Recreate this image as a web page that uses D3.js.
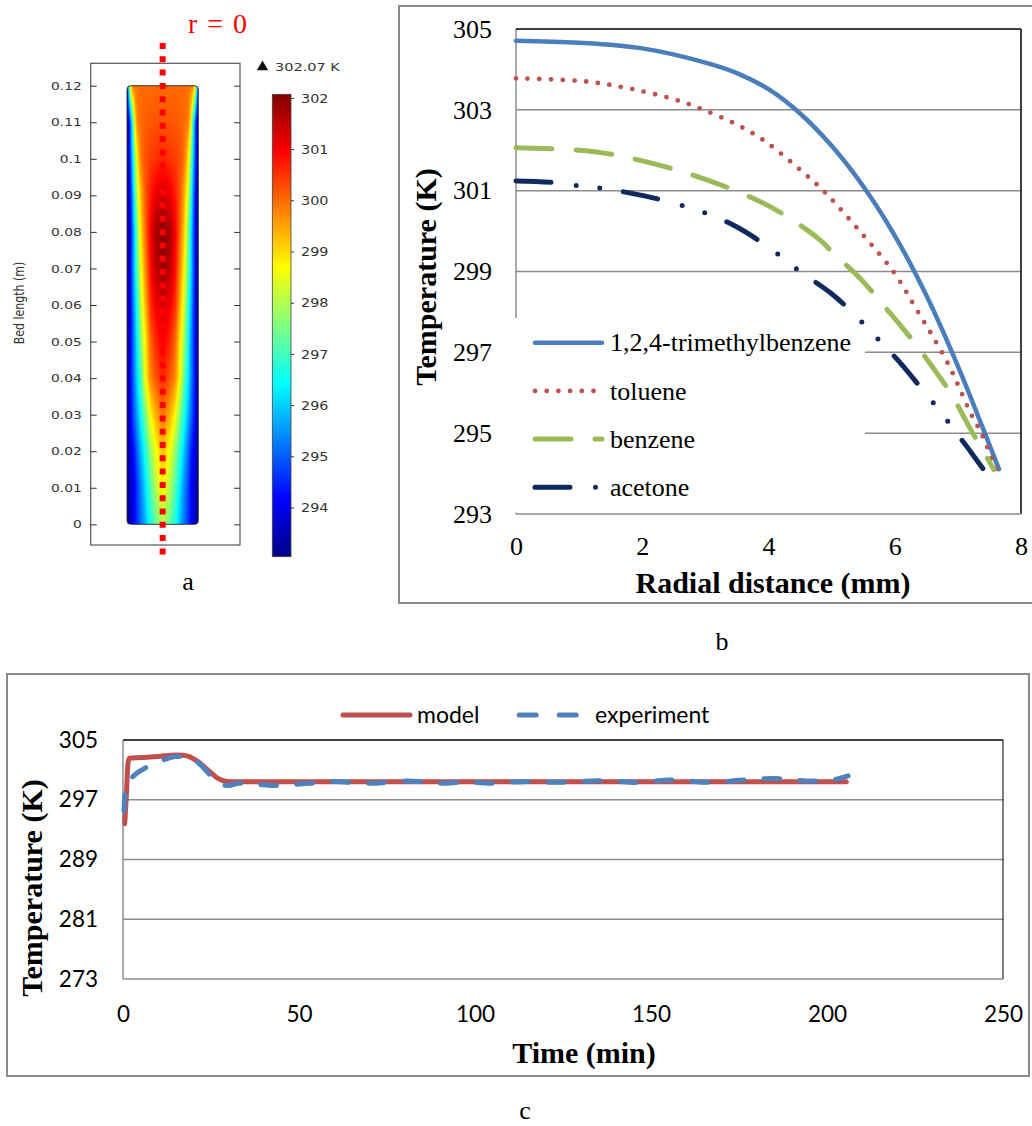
<!DOCTYPE html>
<html><head><meta charset="utf-8">
<script src="https://cdn.jsdelivr.net/npm/d3@7"></script>
<style>body{margin:0;background:#fff} svg{display:block}</style>
</head><body>
<svg id="fig" width="1032" height="1126"></svg>
<script>
// ================= DATA =================
// Panel a: temperature field in the bed (rows = bed height, columns = r / R)
const bedTicks = [0,0.01,0.02,0.03,0.04,0.05,0.06,0.07,0.08,0.09,0.1,0.11,0.12];
const bedTickLabels = ["0","0.01","0.02","0.03","0.04","0.05","0.06","0.07","0.08","0.09","0.1","0.11","0.12"];
const bedZ = [0,0.01,0.02,0.03,0.04,0.05,0.06,0.07,0.08,0.09,0.1,0.11,0.12];
const bedR = [0,0.2,0.35,0.5,0.6,0.7,0.78,0.85,0.9,0.95,1.0];
const bedT = [
 [298.0, 297.3, 296.6, 295.7, 295.2, 294.7, 294.3, 293.9, 293.6, 293.3, 293.0],
 [298.8, 298.0, 297.1, 296.1, 295.4, 294.8, 294.2, 293.9, 293.7, 293.4, 293.1],
 [299.3, 298.6, 297.7, 296.6, 295.9, 295.2, 294.5, 294.2, 293.9, 293.5, 293.1],
 [299.9, 299.4, 298.7, 297.4, 296.6, 295.8, 295.2, 294.6, 294.2, 293.6, 293.1],
 [300.6, 300.2, 299.7, 298.5, 297.2, 296.3, 295.5, 294.8, 294.3, 293.6, 293.1],
 [301.0, 300.6, 300.0, 298.7, 297.8, 296.6, 295.6, 294.8, 294.2, 293.6, 293.1],
 [301.3, 301.0, 300.5, 299.2, 298.3, 296.9, 295.9, 294.9, 294.2, 293.6, 293.1],
 [301.9, 301.5, 300.8, 299.6, 298.7, 297.4, 296.2, 295.1, 294.3, 293.6, 293.1],
 [302.05,301.7, 301.0, 299.9, 299.1, 297.7, 296.3, 295.1, 294.2, 293.6, 293.1],
 [301.4, 301.1, 300.7, 300.1, 299.4, 298.4, 296.9, 295.4, 294.5, 293.7, 293.1],
 [300.6, 300.5, 300.4, 300.2, 299.9, 299.0, 297.6, 296.0, 294.9, 293.9, 293.2],
 [300.2, 300.2, 300.15,300.1, 300.0, 299.85,298.9, 296.6, 295.2, 294.0, 293.3],
 [300.0, 300.0, 300.0, 300.0, 300.0, 299.95,299.9, 299.8, 298.8, 296.5, 294.0]
];
const colorbarTicks = [294,295,296,297,298,299,300,301,302];
const tempRange = [293.04, 302.07];
const maxTempLabel = "302.07 K";

// Panel b: radial temperature profiles
const radialTicks = [0,2,4,6,8];
const radialTempTicks = [293,295,297,299,301,303,305];
const solventNames = ["1,2,4-trimethylbenzene","toluene","benzene","acetone"];
const trimethylbenzene = [[0,304.71],[1,304.66],[2,304.52],[3,304.17],[3.5,303.91],[4,303.51],[4.5,302.91],[5,302.11],[5.5,301.11],[6,299.89],[6.5,298.41],[7,296.66],[7.5,294.71],[7.65,294.11]];
const toluene = [[0,303.78],[1.12,303.7],[1.85,303.51],[2.57,303.23],[2.92,303.03],[3.44,302.68],[3.92,302.25],[4.66,301.3],[4.9,300.95],[5.5,299.9],[6.0,298.95],[6.33,298.1],[6.6,297.4],[6.85,296.7],[7.0,296.2],[7.2,295.5],[7.37,295.0],[7.64,293.98]];
const benzene = [[0,302.06],[1,302.0],[1.65,301.86],[2.63,301.47],[3.57,300.94],[4.2,300.45],[4.8,299.8],[5.0,299.5],[5.5,298.75],[5.8,298.2],[6.1,297.65],[6.5,296.85],[6.9,295.95],[7.2,295.1],[7.57,294.1]];
const acetone = [[0,301.24],[0.63,301.2],[1.0,301.12],[1.37,301.06],[1.71,300.97],[2.31,300.77],[3.0,300.45],[3.5,300.1],[4.0,299.6],[4.5,299.0],[5.0,298.45],[5.34,297.97],[5.59,297.57],[5.84,297.15],[6.07,296.77],[6.51,295.94],[6.73,295.52],[6.95,295.06],[7.16,294.63],[7.55,293.79]];

// Panel c: transient temperature
const timeTicks = [0,50,100,150,200,250];
const timeTempTicks = [273,281,289,297,305];
const seriesNames = ["model","experiment"];
const modelSeries = [[0.5,293.8],[1.0,298.0],[1.4,301.8],[1.8,302.55],[5,302.65],[10,302.8],[15,303.0],[17,302.95],[19,302.75],[21,302.2],[23.8,301.1],[26,300.2],[27.6,299.7],[29.5,299.45],[32,299.4],[60,299.4],[100,299.4],[150,299.4],[205.5,299.4]];
const experimentSeries = [[0.3,295.5],[0.5,297.5],[1.8,299.4],[3.5,300.4],[5.8,301.1],[8,301.7],[10,302.1],[12.5,302.5],[15.2,302.8],[17.5,302.8],[20,302.4],[22,301.7],[23.8,300.8],[26,299.7],[28,299.0],[30,298.9],[33,299.2],[38,299.1],[42.5,298.9],[46,299.0],[50,299.1],[55,299.3],[60.7,299.45],[65,299.3],[71,299.2],[75,299.35],[80.6,299.5],[85,299.4],[91,299.2],[95,299.3],[100.5,299.3],[105,299.2],[110,299.35],[115,299.45],[120,299.35],[125,299.35],[130,299.45],[135,299.55],[140,299.5],[145,299.3],[150,299.45],[155,299.65],[160,299.55],[165,299.35],[170,299.4],[175,299.6],[180,299.75],[185,299.85],[190,299.7],[195,299.5],[200,299.6],[203,299.8],[206,300.2]];

// ================= DRAWING =================
const svg = d3.select("#fig");
const SERIF = "'Liberation Serif','Times New Roman',serif";
const SANS_A = "'DejaVu Sans',Verdana,sans-serif";
const SANS_C = "Lato,'Open Sans',sans-serif";
const defs = svg.append("defs");

// ---------- Panel a ----------
const gA = svg.append("g");
const yBed = d3.scaleLinear().domain([0,0.12]).range([524.3,85.7]);
const rodX0 = 127, rodX1 = 198.3, rodCx = (rodX0+rodX1)/2;
const rBed = d3.scaleLinear().domain([0,1]).range([0,(rodX1-rodX0)/2]);
const fracToT = d3.scaleLinear().domain([0,1]).range(tempRange);
const jet = d3.scaleLinear()
  .domain([0,0.125,0.375,0.625,0.875,1].map(fracToT))
  .range(["#000084","#0000ff","#00ffff","#ffff00","#ff0000","#800000"])
  .clamp(true);

gA.append("rect").attr("x",90.7).attr("y",63.3).attr("width",149.3).attr("height",481.7)
  .attr("fill","none").attr("stroke","#555").attr("stroke-width",1.2);

function fieldT(r,z){
  const zi = Math.max(0, Math.min(bedZ.length-2, d3.bisectRight(bedZ,z)-1));
  const fz = Math.max(0, Math.min(1,(z-bedZ[zi])/(bedZ[zi+1]-bedZ[zi])));
  const ri = Math.max(0, Math.min(bedR.length-2, d3.bisectRight(bedR,r)-1));
  const fr = Math.max(0, Math.min(1,(r-bedR[ri])/(bedR[ri+1]-bedR[ri])));
  const a = bedT[zi][ri]*(1-fr)+bedT[zi][ri+1]*fr;
  const b = bedT[zi+1][ri]*(1-fr)+bedT[zi+1][ri+1]*fr;
  return a*(1-fz)+b*fz;
}
const W = Math.round(rodX1-rodX0), H = Math.round(yBed(0)-yBed(0.12));
const cv = document.createElement("canvas"); cv.width = W; cv.height = H;
const ctx = cv.getContext("2d"); const img = ctx.createImageData(W,H);
for (let py=0; py<H; py++){
  const z = yBed.invert(yBed(0.12)+py+0.5);
  for (let px=0; px<W; px++){
    const r = Math.min(1, Math.abs(rodX0+px+0.5-rodCx)/rBed(1));
    const c = d3.rgb(jet(fieldT(r,z)));
    const k = (py*W+px)*4;
    img.data[k]=c.r; img.data[k+1]=c.g; img.data[k+2]=c.b; img.data[k+3]=255;
  }
}
ctx.putImageData(img,0,0);
defs.append("clipPath").attr("id","rodClip").append("rect")
  .attr("x",rodX0).attr("y",yBed(0.12)).attr("width",rodX1-rodX0).attr("height",yBed(0)-yBed(0.12)).attr("rx",3.5);
gA.append("image").attr("href",cv.toDataURL()).attr("x",rodX0).attr("y",yBed(0.12))
  .attr("width",rodX1-rodX0).attr("height",yBed(0)-yBed(0.12))
  .attr("preserveAspectRatio","none").attr("clip-path","url(#rodClip)");
gA.append("rect").attr("x",rodX0).attr("y",yBed(0.12)).attr("width",rodX1-rodX0).attr("height",yBed(0)-yBed(0.12))
  .attr("rx",3.5).attr("fill","none").attr("stroke","#333").attr("stroke-width",1);

// axes of panel a
const axA = gA.append("g").attr("transform","translate(90.7,0)")
  .call(d3.axisLeft(yBed).tickValues(bedTicks).tickSize(-6).tickPadding(9).tickFormat((d,i)=>bedTickLabels[i]));
axA.select(".domain").remove();
axA.selectAll("line").attr("stroke","#333");
axA.selectAll("text").attr("font-family",SANS_A).attr("font-size",10).attr("fill","#333")
  .attr("x",null).attr("dy",null)
  .attr("transform","translate(-9,3.6) scale(1.38,1)");
const axA2 = gA.append("g").attr("transform","translate(240,0)")
  .call(d3.axisRight(yBed).tickValues(bedTicks).tickSize(-6).tickFormat(""));
axA2.select(".domain").remove();
axA2.selectAll("line").attr("stroke","#333");

gA.append("text").attr("transform","translate(24,303) rotate(-90) scale(1,1.35)").attr("text-anchor","middle")
  .attr("font-family",SANS_A).attr("font-size",11).attr("fill","#333").text("Bed length (m)");

// r = 0 line
gA.append("line").attr("x1",rodCx).attr("x2",rodCx).attr("y1",43).attr("y2",557)
  .attr("stroke","#ff0000").attr("stroke-width",6).attr("stroke-dasharray","6 7.3");
gA.append("text").attr("x",188).attr("y",33).attr("font-family",SERIF).attr("font-size",28)
  .attr("fill","#ff0000").attr("word-spacing",3).text("r = 0");

// max marker
gA.append("path").attr("d",d3.symbol(d3.symbolTriangle,55)()).attr("transform","translate(262.5,67)").attr("fill","#111");
gA.append("text").attr("transform","translate(275,70.7) scale(1.38,1)").attr("font-family",SANS_A)
  .attr("font-size",10.5).attr("fill","#333").text(maxTempLabel);

// colorbar
const yCb = d3.scaleLinear().domain(tempRange).range([556.7,94.3]);
const grad = defs.append("linearGradient").attr("id","cbGrad").attr("x1",0).attr("y1",1).attr("x2",0).attr("y2",0);
d3.range(0,1.0001,0.025).forEach(o=>grad.append("stop").attr("offset",o).attr("stop-color",jet(fracToT(o))));
gA.append("rect").attr("x",272.3).attr("y",yCb(tempRange[1])).attr("width",18.7).attr("height",yCb(tempRange[0])-yCb(tempRange[1]))
  .attr("fill","url(#cbGrad)").attr("stroke","#444").attr("stroke-width",0.8);
const axCb = gA.append("g").attr("transform","translate(291,0)")
  .call(d3.axisRight(yCb).tickValues(colorbarTicks).tickSize(3).tickPadding(7).tickFormat(d3.format("d")));
axCb.select(".domain").remove();
axCb.selectAll("line").attr("stroke","#333");
axCb.selectAll("text").attr("font-family",SANS_A).attr("font-size",11.5).attr("fill","#333")
  .attr("x",null).attr("dy",null).attr("transform","translate(10,4.2) scale(1.25,1)");

gA.append("text").attr("x",188).attr("y",590).attr("text-anchor","middle").attr("font-family",SERIF).attr("font-size",26).text("a");

// ---------- Panel b ----------
const gB = svg.append("g");
const xR = d3.scaleLinear().domain([0,8]).range([516,1021]);
const yR = d3.scaleLinear().domain([293,305]).range([514,29]);
gB.append("rect").attr("x",399).attr("y",6).attr("width",660).attr("height",597)
  .attr("fill","none").attr("stroke","#8a8a8a").attr("stroke-width",2);
gB.selectAll("line.grid").data(radialTempTicks.filter(v=>v>293&&v<305)).join("line")
  .attr("x1",xR(0)).attr("x2",xR(8)).attr("y1",d=>yR(d)).attr("y2",d=>yR(d))
  .attr("stroke","#8c8c8c").attr("stroke-width",1.5);
gB.append("line").attr("x1",xR(0)).attr("x2",xR(0)).attr("y1",yR(305)).attr("y2",yR(293)).attr("stroke","#8c8c8c").attr("stroke-width",1.5);
// legend background
gB.append("rect").attr("x",514).attr("y",318).attr("width",351).attr("height",194.5).attr("fill","#fff");
gB.append("line").attr("x1",xR(0)).attr("x2",xR(8)).attr("y1",yR(305)).attr("y2",yR(305)).attr("stroke","#000").attr("stroke-width",1.5);
gB.append("line").attr("x1",xR(8)).attr("x2",xR(8)).attr("y1",yR(305)).attr("y2",yR(293)).attr("stroke","#000").attr("stroke-width",1.5);
gB.append("line").attr("x1",xR(0)).attr("x2",xR(8)).attr("y1",yR(293)).attr("y2",yR(293)).attr("stroke","#8c8c8c").attr("stroke-width",1.5);

const axBy = gB.append("g").attr("transform",`translate(${xR(0)},0)`)
  .call(d3.axisLeft(yR).tickValues(radialTempTicks).tickSize(0).tickPadding(24).tickFormat(d3.format("d")));
axBy.select(".domain").remove();
axBy.attr("font-family",SERIF).attr("font-size",26);
const axBx = gB.append("g").attr("transform",`translate(0,${yR(293)})`)
  .call(d3.axisBottom(xR).tickValues(radialTicks).tickSize(0).tickPadding(22.5).tickFormat(d3.format("d")));
axBx.select(".domain").remove();
axBx.attr("font-family",SERIF).attr("font-size",26);

const styleB = [
  {data:trimethylbenzene, color:"#4a7ebb", w:4.5, dash:null},
  {data:toluene, color:"#c0504d", w:4.8, dash:"0 11.7"},
  {data:benzene, color:"#9bbb59", w:5, dash:"36 24"},
  {data:acetone, color:"#10295e", w:5, dash:"35 25.5 0 23.6 0 23.9"}
];
const lineB = d3.line().x(d=>xR(d[0])).y(d=>yR(d[1])).curve(d3.curveCatmullRom.alpha(0.5));
styleB.forEach(s=>{
  gB.append("path").attr("d",lineB(s.data)).attr("fill","none").attr("stroke",s.color)
    .attr("stroke-width",s.w).attr("stroke-linecap","round").attr("stroke-dasharray",s.dash);
});
solventNames.forEach((name,i)=>{
  const s = styleB[i], y = 342.7 + i*48.2;
  gB.append("path").attr("d",`M535,${y}H602`).attr("fill","none").attr("stroke",s.color)
    .attr("stroke-width",s.w).attr("stroke-linecap","round").attr("stroke-dasharray",s.dash);
  gB.append("text").attr("x",610).attr("y",y+8.6).attr("font-family",SERIF).attr("font-size",26).text(name);
});
gB.append("text").attr("transform","translate(436,277) rotate(-90)").attr("text-anchor","middle")
  .attr("font-family",SERIF).attr("font-weight","bold").attr("font-size",30).text("Temperature (K)");
gB.append("text").attr("x",773).attr("y",593).attr("text-anchor","middle")
  .attr("font-family",SERIF).attr("font-weight","bold").attr("font-size",30).text("Radial distance (mm)");
gB.append("text").attr("x",722).attr("y",650).attr("text-anchor","middle").attr("font-family",SERIF).attr("font-size",26).text("b");

// ---------- Panel c ----------
const gC = svg.append("g");
const xT = d3.scaleLinear().domain([0,250]).range([123,1003]);
const yT = d3.scaleLinear().domain([273,305]).range([979,740]);
gC.append("rect").attr("x",7).attr("y",674).attr("width",1022).attr("height",402)
  .attr("fill","none").attr("stroke","#8a8a8a").attr("stroke-width",2);
gC.selectAll("line.grid").data(timeTempTicks.filter(v=>v>273&&v<305)).join("line")
  .attr("x1",xT(0)).attr("x2",xT(250)).attr("y1",d=>yT(d)).attr("y2",d=>yT(d))
  .attr("stroke","#8c8c8c").attr("stroke-width",1.5);
gC.append("line").attr("x1",xT(0)).attr("x2",xT(250)).attr("y1",yT(305)).attr("y2",yT(305)).attr("stroke","#000").attr("stroke-width",1.5);
gC.append("line").attr("x1",xT(250)).attr("x2",xT(250)).attr("y1",yT(305)).attr("y2",yT(273)).attr("stroke","#000").attr("stroke-width",1);
gC.append("line").attr("x1",xT(0)).attr("x2",xT(250)).attr("y1",yT(273)).attr("y2",yT(273)).attr("stroke","#8c8c8c").attr("stroke-width",1.5);
gC.append("line").attr("x1",xT(0)).attr("x2",xT(0)).attr("y1",yT(305)).attr("y2",yT(273)).attr("stroke","#8c8c8c").attr("stroke-width",1.5);

const axCy = gC.append("g").attr("transform",`translate(${xT(0)},0)`)
  .call(d3.axisLeft(yT).tickValues(timeTempTicks).tickSize(0).tickPadding(25).tickFormat(d3.format("d")));
axCy.select(".domain").remove();
axCy.attr("font-family",SANS_C).attr("font-size",22.5);
const axCx = gC.append("g").attr("transform",`translate(0,${yT(273)})`)
  .call(d3.axisBottom(xT).tickValues(timeTicks).tickSize(0).tickPadding(26.7).tickFormat(d3.format("d")));
axCx.select(".domain").remove();
axCx.attr("font-family",SANS_C).attr("font-size",22.5);

const lineC = d3.line().x(d=>xT(d[0])).y(d=>yT(d[1])).curve(d3.curveMonotoneX);
gC.append("path").attr("d",lineC(modelSeries)).attr("fill","none").attr("stroke","#c0504d")
  .attr("stroke-width",5).attr("stroke-linejoin","round").attr("stroke-linecap","round");
gC.append("path").attr("d",lineC(experimentSeries)).attr("fill","none").attr("stroke","#4f81bd")
  .attr("stroke-width",5).attr("stroke-linecap","round").attr("stroke-dasharray","16 20");

// legend c
gC.append("path").attr("d","M343,715H410").attr("stroke","#c0504d").attr("stroke-width",5).attr("stroke-linecap","round");
gC.append("text").attr("x",417).attr("y",723).attr("font-family",SANS_C).attr("font-size",23).text(seriesNames[0]);
gC.append("path").attr("d","M519.2,715H576.8").attr("stroke","#4f81bd").attr("stroke-width",5)
  .attr("stroke-linecap","round").attr("stroke-dasharray","17 23");
gC.append("text").attr("x",595).attr("y",723).attr("font-family",SANS_C).attr("font-size",23).text(seriesNames[1]);

gC.append("text").attr("transform","translate(42,888) rotate(-90)").attr("text-anchor","middle")
  .attr("font-family",SERIF).attr("font-weight","bold").attr("font-size",30).text("Temperature (K)");
gC.append("text").attr("x",584).attr("y",1063).attr("text-anchor","middle")
  .attr("font-family",SERIF).attr("font-weight","bold").attr("font-size",30).text("Time (min)");
gC.append("text").attr("x",525).attr("y",1119).attr("text-anchor","middle").attr("font-family",SERIF).attr("font-size",26).text("c");
</script>
</body></html>
